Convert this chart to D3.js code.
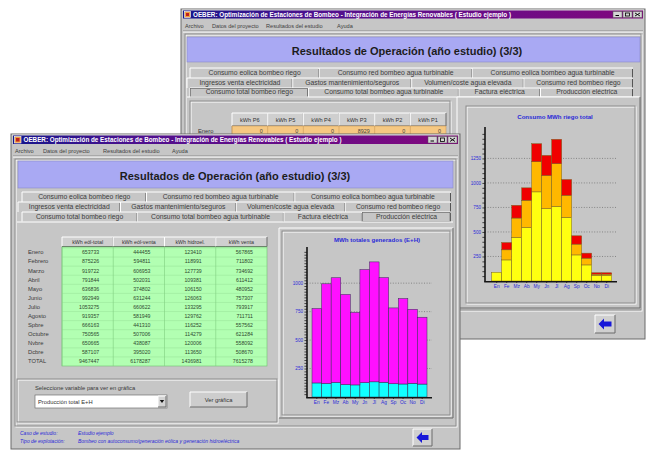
<!DOCTYPE html>
<meta charset="utf-8">
<style>
body { margin: 0; background: #fff; }
svg { display: block; font-family: "Liberation Sans", Arial, sans-serif; }
</style>
<svg width="648" height="451"></svg>
<script src="https://d3js.org/d3.v7.min.js"></script>
<script>

// ---- datos ----
var meses = ["Enero", "Febrero", "Marzo", "Abril", "Mayo", "Junio", "Julio", "Agosto", "Spbre", "Octubre", "Nvbre", "Dcbre"];
var mesCorto = ["En", "Fe", "Mz", "Ab", "My", "Jn", "Jl", "Ag", "Sp", "Oc", "No", "Di"];
var columnas = ["kWh eól-total", "kWh eól-venta", "kWh hidroel.", "kWh venta"];
var eolTotal = [653733, 875226, 919722, 791844, 636836, 992949, 1053275, 919357, 666163, 750565, 650665, 587107];
var eolVenta = [444455, 594811, 606953, 502031, 374802, 631244, 660622, 581949, 441310, 507006, 438087, 395020];
var hidroel  = [123410, 118991, 127739, 109381, 106150, 126063, 133295, 129762, 116252, 114279, 120006, 113650];
var venta    = [567865, 711802, 734692, 611412, 480952, 757307, 793917, 711711, 557562, 621284, 558092, 508670];
var totales  = [9467447, 6178287, 1436981, 7615278];

// consumo riego (MWh) por tramos: amarillo, naranja, rojo
var riegoAmarillo = [89, 215, 444, 546, 909, 738, 761, 649, 266, 164, 56, 56];
var riegoNaranja  = [0, 103, 198, 277, 307, 338, 435, 225, 110, 69, 14, 14];
var riegoRojo     = [0, 74, 130, 127, 184, 205, 249, 161, 85, 51, 14, 14];

var periodos = ["kWh P6", "kWh P5", "kWh P4", "kWh P3", "kWh P2", "kWh P1"];
var eneroPeriodos = [0, 0, 0, 8929, 0, 0];

var tabsFila1 = ["Consumo eolica bombeo riego", "Consumo red bombeo agua turbinable", "Consumo eolica bombeo agua turbinable"];
var tabsFila2 = ["Ingresos venta electricidad", "Gastos mantenimiento/seguros", "Volumen/coste agua elevada", "Consumo red bombeo riego"];
var tabsFila3 = ["Consumo total bombeo riego", "Consumo total bombeo agua turbinable", "Factura eléctrica", "Producción eléctrica"];

var menu = ["Archivo", "Datos del proyecto", "Resultados del estudio", "Ayuda"];
var tituloVentana = "OEBER: Optimización de Estaciones de Bombeo - Integración de Energías Renovables ( Estudio ejemplo )";
var tituloPanel = "Resultados de Operación (año estudio) (3/3)";

var gris = "#c6c6c6", azulTxt = "#2a2ad8";

var svg = d3.select("svg");

// degradado de la barra de titulo
var grad = svg.append("defs").append("linearGradient").attr("id", "tb");
grad.append("stop").attr("offset", 0).attr("stop-color", "#16168c");
grad.append("stop").attr("offset", 0.3).attr("stop-color", "#50108e");
grad.append("stop").attr("offset", 1).attr("stop-color", "#82087e");

// ---- utilidades de dibujo ----
function rect(g, x, y, w, h, fill, stroke, sw) {
  return g.append("rect").attr("x", x).attr("y", y).attr("width", w).attr("height", h)
      .attr("fill", fill || "none").attr("stroke", stroke || "none").attr("stroke-width", sw || 1);
}
function text(g, x, y, s, size, fill, anchor) {
  return g.append("text").attr("x", x).attr("y", y).attr("font-size", size)
      .attr("fill", fill || "#333").attr("text-anchor", anchor || "start").text(s);
}
function line(g, x1, y1, x2, y2, c, sw) {
  return g.append("line").attr("x1", x1).attr("y1", y1).attr("x2", x2).attr("y2", y2)
      .attr("stroke", c).attr("stroke-width", sw || 1);
}
// borde grabado (etched)
function etched(g, x, y, w, h) {
  rect(g, x + 1, y + 1, w, h, "none", "#fff");
  rect(g, x, y, w, h, "none", "#8c8c8c");
}
// borde en relieve
function raised(g, x, y, w, h, fill) {
  rect(g, x, y, w, h, fill || gris);
  line(g, x, y, x + w, y, "#fff");
  line(g, x, y, x, y + h, "#fff");
  line(g, x, y + h, x + w, y + h, "#6a6a6a");
  line(g, x + w, y, x + w, y + h, "#6a6a6a");
}
function barraTitulo(g, x, y, w, h) {
  rect(g, x, y, w, h, "url(#tb)");
  rect(g, x + 1.5, y + 1, h - 2, h - 2, "#f0a040", "#fff", 0.6);
  rect(g, x + 3, y + 2.5, h - 5, h - 5, "#c02020");
  text(g, x + h + 2, y + h - 2, tituloVentana, 6.3, "#fff").attr("font-weight", "bold");
  [3, 2, 1].forEach(function(k) {
    var bx = x + w - k * 10;
    rect(g, bx, y + 1, 9, h - 2, "#d4d4d4", "#555", 0.5);
  });
  var bx = x + w - 30;
  line(g, bx + 2.5, y + h - 3, bx + 6, y + h - 3, "#000", 1);
  rect(g, bx + 12.5, y + 2.5, 4, h - 5, "none", "#000", 0.8);
  line(g, x + w - 8, y + 2.5, x + w - 3, y + h - 2.5, "#000", 0.9);
  line(g, x + w - 3, y + 2.5, x + w - 8, y + h - 2.5, "#000", 0.9);
}
function botonFlecha(g, x, y, w, h) {
  raised(g, x, y, w, h, "#d0d0d0");
  var cy = y + h / 2;
  g.append("path")
      .attr("d", "M" + (x + 3.5) + "," + cy + "L" + (x + 9) + "," + (cy - 5.5) + "L" + (x + 9) + "," + (cy - 2.5) +
                 "L" + (x + w - 3.5) + "," + (cy - 2.5) + "L" + (x + w - 3.5) + "," + (cy + 2.5) +
                 "L" + (x + 9) + "," + (cy + 2.5) + "L" + (x + 9) + "," + (cy + 5.5) + "Z")
      .attr("fill", "#1818d8");
}
// una fila de pestañas: el espacio sobrante se reparte por igual
function filaTabs(g, labels, x0, x1, y, h, sel) {
  var row = g.append("g");
  var bg = row.append("g");
  var t = labels.map(function(l) {
    return text(row, 0, y + h - 2.6, l, 6.8, "#3c3c3c", "middle");
  });
  var ws = t.map(function(s) { return s.node().getComputedTextLength(); });
  var extra = (x1 - x0 - d3.sum(ws)) / labels.length;
  var x = x0;
  labels.forEach(function(l, i) {
    var w = ws[i] + extra;
    rect(bg, x, y, w, h, gris);
    line(bg, x, y, x + w, y, "#fff");
    line(bg, x, y, x, y + h, "#fff");
    line(bg, x + w - 0.5, y + 1, x + w - 0.5, y + h, "#555", 1);
    if (i === sel) rect(bg, x + 0.5, y + 0.5, w - 1.5, h - 0.5, "none", "#707070", 0.8);
    t[i].attr("x", x + w / 2);
    x += w;
  });
}

// ---- grafico de barras apiladas (escala y eje de d3) ----
function grafico(g, o) {
  var x = d3.scaleBand().domain(mesCorto).range([o.x0, o.x1]);
  var y = d3.scaleLinear().domain([0, o.max]).range([o.y0, o.yTop]);
  text(g, o.tx, o.ty, o.titulo, 6.1, azulTxt, "middle").attr("font-weight", "bold");

  g.selectAll(null).data(o.grid).enter().append("line")
      .attr("x1", o.ax).attr("x2", o.axEnd)
      .attr("y1", function(d) { return y(d); }).attr("y2", function(d) { return y(d); })
      .attr("stroke", "#6a6a6a").attr("stroke-width", 0.7).attr("stroke-dasharray", "1,1.6");

  var series = d3.stack().keys(d3.range(o.capas.length))(
      mesCorto.map(function(m, i) { return o.capas.map(function(c) { return c[i]; }); }));
  series.forEach(function(s, k) {
    g.selectAll(null).data(s).enter().append("rect")
        .filter(function(d) { return d[1] > d[0]; })
        .attr("x", function(d) { return x(mesCorto[s.indexOf(d)]); })
        .attr("width", x.bandwidth())
        .attr("y", function(d) { return y(d[1]); })
        .attr("height", function(d) { return y(d[0]) - y(d[1]); })
        .attr("fill", o.colores[k]).attr("stroke", o.borde).attr("stroke-width", 0.5);
  });

  // marcas menores del eje y
  g.append("g").attr("transform", "translate(" + o.ax + ",0)")
      .call(d3.axisLeft(y).tickValues(d3.range(o.paso, o.max, o.paso)).tickSize(2.6).tickFormat(""))
      .call(function(a) { a.select(".domain").remove(); a.selectAll("line").attr("stroke", "#222").attr("stroke-width", 0.8); });
  g.append("g").selectAll(null).data(o.grid).enter().append("text")
      .attr("x", o.ax - 4).attr("y", function(d) { return y(d) + 1.6; })
      .attr("font-size", 4.6).attr("fill", azulTxt).attr("text-anchor", "end")
      .text(function(d) { return d; });
  g.append("g").attr("transform", "translate(0," + o.y0 + ")")
      .call(d3.axisBottom(x).tickSize(2).tickPadding(1.5))
      .call(function(a) {
        a.select(".domain").remove();
        a.selectAll("line").attr("stroke", "#222").attr("stroke-width", 0.8);
        a.selectAll("text").attr("font-size", 4.8).attr("fill", azulTxt).attr("font-family", null);
      });
  line(g, o.ax, o.yTop - 2, o.ax, o.y0 + 0.8, "#151515", 1.6);
  line(g, o.ax - 0.8, o.y0 + 0.8, o.axEnd, o.y0 + 0.8, "#151515", 1.6);
}

// =================== ventana de fondo ===================
var B = svg.append("g");
rect(B, 181, 9, 464, 330, gris, "#6a6a6a");
line(B, 182, 10, 644, 10, "#e8e8e8");
barraTitulo(B, 183, 10.5, 460, 8);
[185, 212, 266, 337].forEach(function(mx, i) { text(B, mx, 27.5, menu[i], 5.6, "#404040"); });
line(B, 183, 31, 643, 31, "#8c8c8c");
line(B, 183, 32, 643, 32, "#fff");
etched(B, 185, 34, 456, 276);
rect(B, 187, 37, 453, 25, "#a9a9f3", "#8a8ac8", 0.6);
text(B, 407, 55, tituloPanel, 11, "#1c1c1c", "middle").attr("font-weight", "bold");
filaTabs(B, tabsFila1, 190, 633, 68, 10);
filaTabs(B, tabsFila2, 187, 633, 78, 10);
filaTabs(B, tabsFila3, 190, 633, 88, 9, 0);
line(B, 187, 97, 639, 97, "#fff");
etched(B, 190, 101, 260, 200);

var cB = d3.scaleBand().domain(periodos).range([232, 446]);
periodos.forEach(function(p, i) {
  raised(B, cB(p), 113, cB.bandwidth(), 13, "#cfcfcf");
  text(B, cB(p) + cB.bandwidth() / 2, 122, p, 5.6, "#333", "middle");
});
rect(B, 232, 126, 214, 10, "#f6c882", "#c09050", 0.5);
periodos.forEach(function(p, i) {
  line(B, cB(p), 126, cB(p), 136, "#c09050", 0.5);
  text(B, cB(p) + cB.bandwidth() - 5, 133, eneroPeriodos[i], 5.4, "#444", "end");
});
text(B, 198, 132.5, meses[0], 5.8, "#333");

raised(B, 457, 97, 183, 211);
etched(B, 466, 106, 169, 197);
grafico(B, {
  x0: 491.7, x1: 611.7, y0: 281, yTop: 129, max: 1550, paso: 50,
  ax: 485, axEnd: 617, grid: [250, 500, 750, 1000, 1250],
  capas: [riegoAmarillo, riegoNaranja, riegoRojo],
  colores: ["#ffff10", "#ffb800", "#f00000"], borde: "#7a6420",
  titulo: "Consumo MWh riego total", tx: 555, ty: 119
});
botonFlecha(B, 595, 315, 20, 18);

// =================== ventana principal ===================
var F = svg.append("g");
rect(F, 11, 134, 449, 315, gris, "#6a6a6a");
line(F, 12, 135, 459, 135, "#e8e8e8");
barraTitulo(F, 13, 135.5, 445, 8.5);
[15, 43, 103, 172].forEach(function(mx, i) { text(F, mx, 152.5, menu[i], 5.6, "#404040"); });
line(F, 13, 156, 458, 156, "#8c8c8c");
line(F, 13, 157, 458, 157, "#fff");
etched(F, 15, 159, 441, 267);
rect(F, 18, 161, 435, 27, "#a9a9f3", "#8a8ac8", 0.6);
text(F, 235, 180, tituloPanel, 11, "#1c1c1c", "middle").attr("font-weight", "bold");
filaTabs(F, tabsFila1, 22, 451, 192, 10);
filaTabs(F, tabsFila2, 18, 451, 202, 10);
filaTabs(F, tabsFila3, 22, 451, 212, 9.5, 3);
line(F, 17, 222, 453, 222, "#fff");

// tabla de produccion
var filas = meses.concat(["TOTAL"]);
var cF = d3.scaleBand().domain(columnas).range([62, 267]);
var rF = d3.scaleBand().domain(filas).range([248, 366]);
columnas.forEach(function(c) {
  raised(F, cF(c), 237, cF.bandwidth(), 9.5, "#cfcfcf");
  text(F, cF(c) + cF.bandwidth() / 2, 243.8, c, 5.3, "#333", "middle");
});
rect(F, 62, 247, 205, 119, "#b2ffb2", "#6fbf6f", 0.6);
filas.forEach(function(f, i) {
  line(F, 62, rF(f), 267, rF(f), "#8fd88f", 0.4);
  text(F, 28, rF(f) + 6.4, f, 5.8, "#3a3a3a");
  var vals = i < 12 ? [eolTotal[i], eolVenta[i], hidroel[i], venta[i]] : totales;
  columnas.forEach(function(c, j) {
    text(F, cF(c) + cF.bandwidth() - 14, rF(f) + 6.4, vals[j], 5.2, "#2f4a2f", "end");
  });
});
columnas.forEach(function(c) { line(F, cF(c), 247, cF(c), 366, "#7fcf7f", 0.6); });

// selector
etched(F, 17, 379, 260, 43);
text(F, 35, 390, "Seleccione variable para ver en gráfica", 5.8, "#3a3a3a");
rect(F, 35, 395, 132, 13, "#fff", "#707070", 0.7);
text(F, 38, 404, "Producción total E+H", 5.8, "#333");
raised(F, 158, 396, 8, 11, "#d4d4d4");
F.append("path").attr("d", "M159.8,400 L164.2,400 L162,403 Z").attr("fill", "#111");
raised(F, 190, 392, 57, 15, "#cdcdcd");
text(F, 218.5, 401.5, "Ver gráfica", 5.8, "#333", "middle");

// grafico produccion
raised(F, 279, 228, 174, 190);
etched(F, 282, 231, 168, 184);
grafico(F, {
  x0: 312, x1: 427, y0: 397, yTop: 249, max: 1300, paso: 25,
  ax: 307, axEnd: 432, grid: [250, 500, 750, 1000],
  capas: [hidroel.map(function(v) { return v / 1000; }), eolTotal.map(function(v) { return v / 1000; })],
  colores: ["#10ffff", "#ff10ff"], borde: "#303050",
  titulo: "MWh totales generados (E+H)", tx: 377, ty: 242
});

// barra de estado
text(F, 20, 435, "Caso de estudio:", 5, azulTxt).attr("font-style", "italic");
text(F, 78, 435, "Estudio ejemplo", 5, azulTxt).attr("font-style", "italic");
text(F, 20, 443, "Tipo de explotación:", 5, azulTxt).attr("font-style", "italic");
text(F, 78, 443, "Bombeo con autoconsumo/generación eólica y generación hidroeléctrica", 5, azulTxt).attr("font-style", "italic");
botonFlecha(F, 413, 429, 19, 17);

</script>
